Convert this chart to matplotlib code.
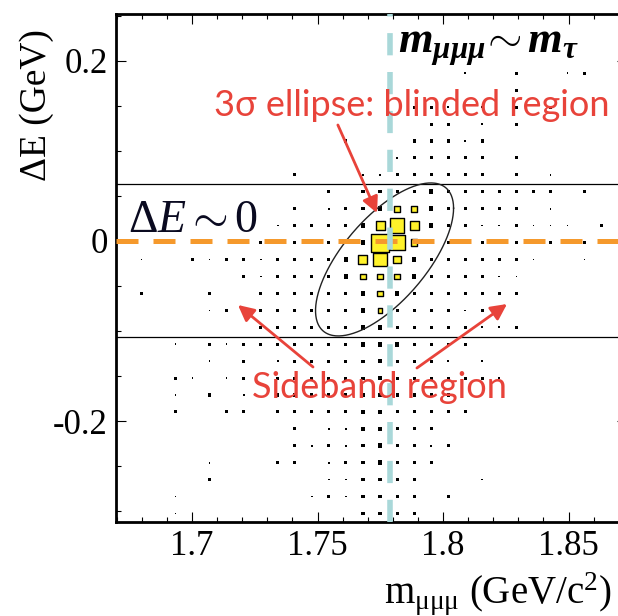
import numpy as np
import matplotlib.pyplot as plt
from matplotlib.ticker import MultipleLocator, FixedLocator

plt.rcParams['mathtext.fontset'] = 'custom'
plt.rcParams['mathtext.rm'] = 'Liberation Serif'
plt.rcParams['mathtext.it'] = 'Liberation Serif:italic'
plt.rcParams['mathtext.bf'] = 'Liberation Serif:bold'
plt.rcParams['mathtext.bfit'] = 'Liberation Serif:bold:italic'
plt.rcParams['font.family'] = 'Liberation Serif'

# binning of the 2D histogram (30 x 30 bins)
m_range = (1.6697, 1.8733)
de_range = (-0.3122, 0.2522)
n_bins = 30

# background box contents, one string per dE row (top -> bottom), one char per m bin
# '.' = empty, digits = bin content
bkg_above = [
    ".........." ".........." "..........",
    ".........." ".........." "..........",
    ".........." ".........." "..........",
    ".........." ".........." "1..4..14..",
    ".........." ".........." "...4......",
    ".........." ".......441" ".1.4.4....",
    ".........." "........44" ".1.4......",
    ".........." "...4...444" "14........",
    ".........." "......1444" "44.4......",
    ".........." "4...114444" "44.4.1....",
]
bkg_band = [
    ".........." "..4.444494" "444444.4..",
    ".........." "4.14494494" "4444.1....",
    ".........1" "4444944494" "4114111.4.",
    "........44" "4444944444" "44444444..",
    ".1..414414" "4449444944" "44441..1..",
    ".......414" "4449444944" "4411......",
    ".4...4..44" "4444949444" "4444......",
    ".....14.44" "4444944444" "14........",
    "........44" "4444994444" "4114......",
    "...1.41444" "4444999444" "4.........",
]
bkg_below = [
    ".....1.4.1" "4444494441" ".1........",
    "...41.14.4" "4444494444" "441.......",
    "...1.4.1.4" "4444444444" "..........",
    "...4..44.4" "4444994444" "4.........",
    ".........." "4.1199444." "..........",
    ".........." "4141494414" "..........",
    ".....1...4" "4.1449444." "..........",
    ".....4...." "..114444.." ".1........",
    "...1......" ".1414444.4" "..........",
    "...1......" "....4444.." "..........",
]

# signal MC boxes (row from top, m bin, content)
sig_row = [11, 11, 12, 12, 12, 13, 13, 13, 14, 14, 14, 15, 15, 15, 16, 17]
sig_col = [16, 17, 15, 16, 17, 15, 16, 17, 14, 15, 16, 14, 15, 16, 15, 15]
sig_val = [10, 10, 25, 66, 25, 100, 70, 14, 25, 56, 19, 10, 10, 10, 10, 6]

# sideband band limits, reference lines, 3 sigma ellipse
band_edges = [0.063, -0.107]
m_tau = 1.7789
ell_center = (1.7767, -0.0205)
ell_half = (0.0275, 0.085)
ell_rho = 0.67

red = '#E8433A'
orange = '#F5992C'
cyan = '#A9D8D9'
yellow = '#FFF22A'

fig = plt.figure(figsize=(6.18, 6.16), dpi=100)
ax = fig.add_axes([116 / 618, 94 / 616, 511 / 618, 508 / 616])
ax.set_xlim(*m_range)
ax.set_ylim(*de_range)

dx = (m_range[1] - m_range[0]) / n_bins
dy = (de_range[1] - de_range[0]) / n_bins
px_per_pt = 100 / 72

rows = bkg_above + bkg_band + bkg_below
xs, ys, ss = [], [], []
for r, line in enumerate(rows):
    for c, ch in enumerate(line):
        if ch == '.':
            continue
        xs.append(m_range[0] + (c + 0.5) * dx)
        ys.append(de_range[1] - (r + 0.5) * dy)
        side = 1.55 * np.sqrt(int(ch))  # px, box area ~ content
        ss.append((side / px_per_pt) ** 2)
ax.scatter(xs, ys, s=ss, marker='s', color='black', linewidths=0, zorder=2)

sx = [m_range[0] + (c + 0.5) * dx for c in sig_col]
sy = [de_range[1] - (r + 0.5) * dy for r in sig_row]
sside = 18 * np.sqrt(np.array(sig_val) / max(sig_val))
ax.scatter(sx, sy, s=(sside / px_per_pt) ** 2, marker='s', facecolor=yellow,
           edgecolor='black', linewidths=1.0, zorder=3)

for yb in band_edges:
    ax.axhline(yb, color='black', lw=0.9, zorder=4)

t = np.linspace(0, 2 * np.pi, 300)
ex = ell_center[0] + ell_half[0] * np.cos(t)
ey = ell_center[1] + ell_half[1] * (ell_rho * np.cos(t) + np.sqrt(1 - ell_rho ** 2) * np.sin(t))
ax.plot(ex, ey, color='#222222', lw=1.0, zorder=4)

ax.axhline(0, color=orange, lw=3.6, dashes=(4.4, 3.0), zorder=5)
ax.axvline(m_tau, color=cyan, lw=4.0, dashes=(4.0, 3.0), zorder=5)

ax.text(1.7820, 0.209, r'$\mathbfit{m}_{\mathbfit{\mu\mu\mu}}\!\sim\mathbfit{m}_{\mathbfit{\tau}}$',
        fontsize=32, ha='left', va='baseline', zorder=6)
ax.text(1.6745, 0.010, r'$\Delta E\sim 0$', fontsize=33, ha='left', va='baseline',
        color='#0a0a20', zorder=6)

sans = ['Lato', 'Open Sans', 'DejaVu Sans']
ax.text(1.7876, 0.151, '3σ ellipse: blinded region', fontsize=26, color=red,
        ha='center', va='center', family=sans, zorder=6)
ax.text(1.7745, -0.163, 'Sideband region', fontsize=26, color=red,
        ha='center', va='center', family=sans, zorder=6)

arrow = dict(arrowstyle='-|>', color=red, lw=2.0, mutation_scale=24, shrinkA=0, shrinkB=0)
ax.annotate('', xy=(1.7737, 0.0311), xytext=(1.7581, 0.1289), arrowprops=arrow, zorder=6)
ax.annotate('', xy=(1.7183, -0.0711), xytext=(1.7482, -0.140), arrowprops=arrow, zorder=6)
ax.annotate('', xy=(1.8255, -0.070), xytext=(1.7896, -0.1411), arrowprops=arrow, zorder=6)

ax.xaxis.set_major_locator(FixedLocator([1.7, 1.75, 1.8, 1.85]))
ax.xaxis.set_minor_locator(MultipleLocator(0.01))
ax.yaxis.set_major_locator(FixedLocator([-0.2, 0, 0.2]))
ax.yaxis.set_minor_locator(MultipleLocator(0.05))
ax.set_xticklabels(['1.7', '1.75', '1.8', '1.85'])
ax.set_yticklabels(['-0.2', '0', '0.2'])
ax.tick_params(which='both', direction='in', top=True, right=True, labelsize=25, width=0.8)
ax.tick_params(which='major', length=7.5, pad=6)
ax.tick_params(which='minor', length=3.8)
for sp in ax.spines.values():
    sp.set_linewidth(2.0)

ax.set_ylabel('ΔE (GeV)', fontsize=27, loc='top')
ax.yaxis.set_label_coords(-0.122, 0.97)
ax.set_xlabel(r'm$_{\mathrm{\mu\mu\mu}}$ (GeV/c$^2$)', fontsize=28, loc='right')
ax.xaxis.set_label_coords(0.97, -0.095)

fig.savefig('out.png', dpi=100)
